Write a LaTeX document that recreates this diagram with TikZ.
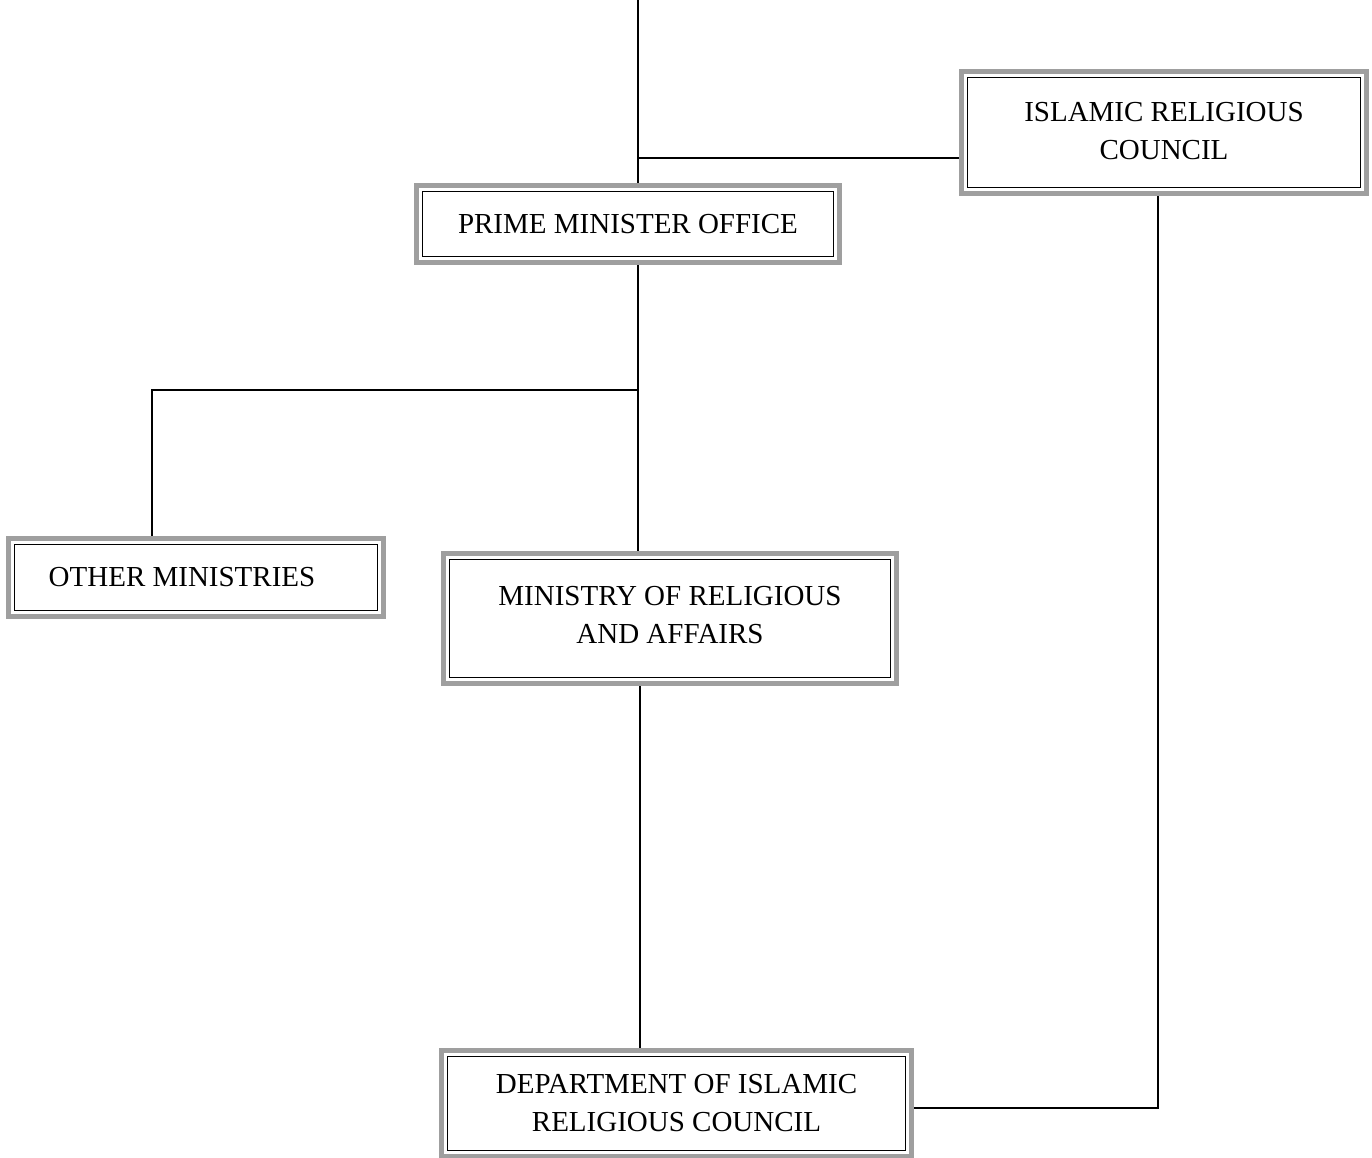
\documentclass[tikz,border=0pt]{standalone}
\usepackage{fontspec}
\setmainfont{Liberation Serif}
\usetikzlibrary{arrows,calc}
\tikzset{>=latex}
\tikzstyle{office}=[rectangle,draw=gray!75,line width=3.4pt,align=center,font=\fontsize{16.5}{21.6}\selectfont,
  path picture={\draw[black,line width=0.7pt] ([shift={(3.3pt,3.3pt)}]path picture bounding box.south west) rectangle ([shift={(-3.3pt,-3.3pt)}]path picture bounding box.north east);}]
\tikzstyle{link}=[draw=black,line width=0.8pt]

\begin{document}
\begin{tikzpicture}[inner sep=1mm]
\useasboundingbox (0,0) rectangle (27.44,-23.16);
\def \trunkx {12.76};
\def \sidex {3.04};
\def \midx {12.8};
\def \farx {23.16};

\node[office,minimum width=8.46cm,minimum height=1.54cm] (PMO) at (12.56,-4.48) {PRIME MINISTER OFFICE};
\node[office,minimum width=8.1cm,minimum height=2.44cm] (IRC) at (23.28,-2.65) {\raisebox{0.08cm}{ISLAMIC RELIGIOUS}\\\raisebox{0.08cm}{COUNCIL}};
\node[office,minimum width=7.5cm,minimum height=1.56cm] (OM) at (3.92,-11.55) {\hspace*{-0.56cm}OTHER MINISTRIES};
\node[office,minimum width=9.06cm,minimum height=2.6cm] (MRA) at (13.4,-12.37) {\raisebox{0.16cm}{MINISTRY OF RELIGIOUS}\\\raisebox{0.16cm}{AND AFFAIRS}};
\node[office,minimum width=9.4cm,minimum height=2.12cm] (DIRC) at (13.53,-22.07) {DEPARTMENT OF ISLAMIC\\RELIGIOUS COUNCIL};

\coordinate (top) at (\trunkx,0);
\coordinate (jirc) at (\trunkx,-3.16);
\coordinate (jom) at (\trunkx,-7.8);
\coordinate (om) at (\sidex,-7.8);
\coordinate (mid) at (\midx,0);
\coordinate (ircdown) at (\farx,-22.16);

\draw[link] (top) -- (top |- PMO.north);
\draw[link] (jirc) -- (jirc -| IRC.west);
\draw[link] (top |- PMO.south) -- (top |- MRA.north);
\draw[link] (jom) -- (om) -- (om |- OM.north);
\draw[link] (mid |- MRA.south) -- (mid |- DIRC.north);
\draw[link] (ircdown |- IRC.south) -- (ircdown) -- (ircdown -| DIRC.east);

\end{tikzpicture}
\end{document}
